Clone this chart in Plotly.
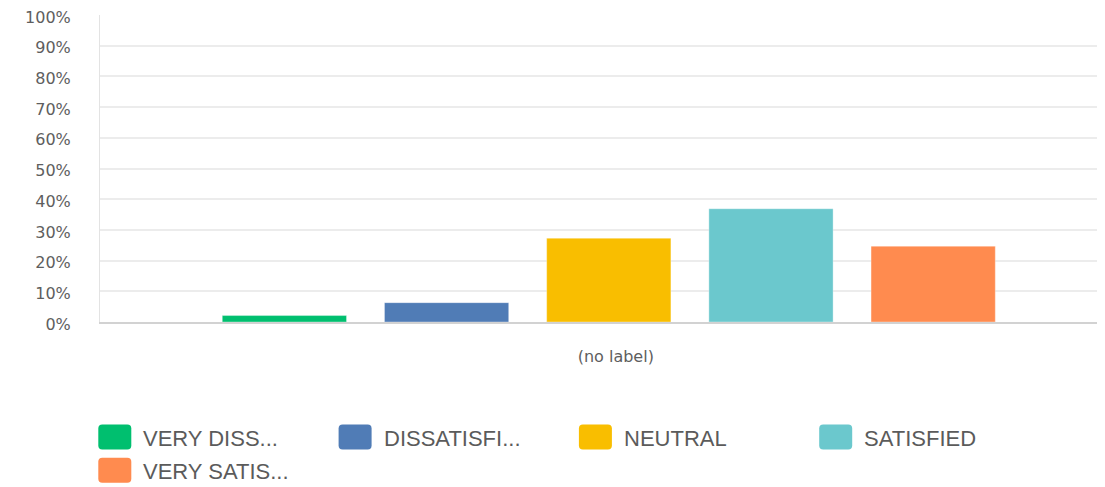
import plotly.graph_objects as go

# ---- data ----
categories = ["(no label)"]
series_names = ["VERY DISS...", "DISSATISFI...", "NEUTRAL", "SATISFIED", "VERY SATIS..."]
series_values = [2.1, 6.3, 27.3, 36.9, 24.7]
series_colors = ["#00BF6F", "#507CB6", "#F9BE00", "#6BC8CD", "#FF8B4F"]
y_tick_values = list(range(0, 101, 10))
y_tick_labels = [f"{v}%" for v in y_tick_values]

# ---- layout geometry (page has an 8px body margin) ----
OFF = 8
W, H = 1105 - OFF, 487 - OFF
plot_left, plot_top, plot_bottom = 100 - OFF, 12.7 - OFF, 321.7 - OFF
ML, MR, MT, MB = plot_left, 0, plot_top, H - plot_bottom
PW = W - ML - MR
PH = H - MT - MB


def px_x(px):
    return (px - OFF - ML) / PW


def px_y(py):
    return (H - MB - (py - OFF)) / PH


fig = go.Figure()
for name, val, col in zip(series_names, series_values, series_colors):
    fig.add_trace(go.Bar(
        x=categories, y=[val], name=name,
        marker=dict(color=col, line=dict(color="rgba(255,255,255,0.35)", width=1)),
        showlegend=False,
    ))

# custom legend (large rounded swatches); positions in page pixels
leg_x0, leg_dx, leg_y0, leg_dy, per_row = 98.3, 240.3, 437.5, 33.3, 4
sw_w, sw_h, r = 33, 25, 4
hw, hh = sw_w / 2, sw_h / 2
rr_path = (f"M {-hw + r},{-hh} L {hw - r},{-hh} Q {hw},{-hh} {hw},{-hh + r} "
           f"L {hw},{hh - r} Q {hw},{hh} {hw - r},{hh} L {-hw + r},{hh} "
           f"Q {-hw},{hh} {-hw},{hh - r} L {-hw},{-hh + r} Q {-hw},{-hh} {-hw + r},{-hh} Z")
shapes = []
annotations = []
for i, (name, col) in enumerate(zip(series_names, series_colors)):
    row, c = divmod(i, per_row)
    left = leg_x0 + c * leg_dx
    cy = leg_y0 + row * leg_dy
    shapes.append(dict(
        type="path", xref="paper", yref="paper",
        xsizemode="pixel", ysizemode="pixel",
        xanchor=px_x(left + hw), yanchor=px_y(cy),
        path=rr_path, fillcolor=col, line=dict(width=0), layer="above",
    ))
    annotations.append(dict(
        x=px_x(left + 43), y=px_y(cy), xref="paper", yref="paper",
        xanchor="left", yanchor="middle", showarrow=False, text=name,
        font=dict(family="Liberation Sans, Arial, sans-serif", size=22, color="#5b5b5b"),
        yshift=-1,
    ))

fig.update_layout(
    width=W, height=H,
    margin=dict(l=ML, r=MR, t=MT, b=MB, pad=0),
    paper_bgcolor="white", plot_bgcolor="white",
    barmode="group", bargap=0.2, bargroupgap=0.234,
    shapes=shapes, annotations=annotations,
    showlegend=False,
    font=dict(family="DejaVu Sans, sans-serif", size=16, color="#5e5e5e"),
)
fig.update_yaxes(
    range=[0, 100], tickvals=y_tick_values, ticktext=y_tick_labels,
    showgrid=True, gridcolor="#ececec", gridwidth=1.5,
    zeroline=False, showline=True, linecolor="#e3e3e3", linewidth=1,
    ticks="", ticklabelstandoff=25, ticklabelshift=2, ticklabeloverflow="allow",
    tickfont=dict(family="DejaVu Sans, sans-serif", size=16, color="#5e5e5e"),
)
fig.update_xaxes(
    range=[-0.5019, 0.4895],
    showgrid=False, zeroline=False, showline=True, linecolor="#d2d2d2", linewidth=2,
    ticks="", ticklabelstandoff=19, ticklabelshift=7,
    tickfont=dict(family="DejaVu Sans, sans-serif", size=16, color="#5e5e5e"),
)

fig.write_html("out.html")
